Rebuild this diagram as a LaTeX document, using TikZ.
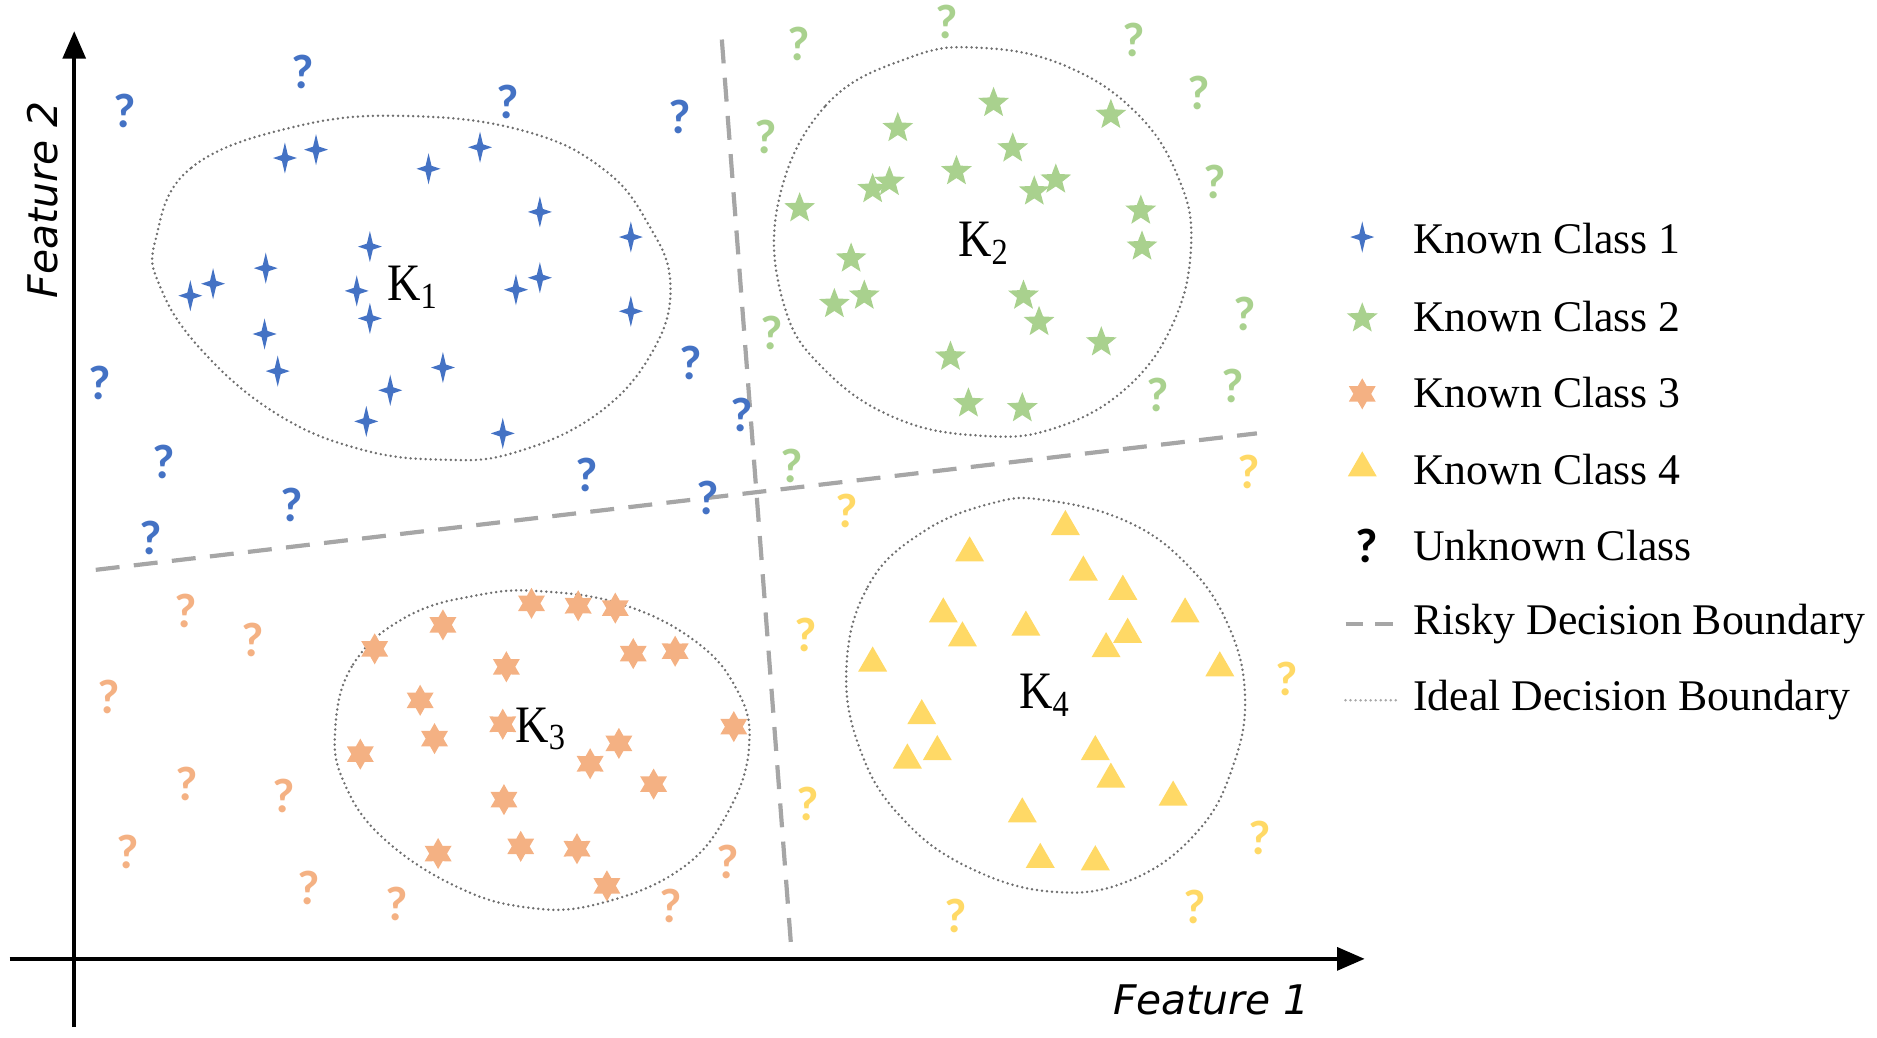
\documentclass[tikz,border=0pt]{standalone}
\usepackage{fontspec}
\setmainfont{Liberation Serif}
\newfontfamily\qfont{Carlito}[BoldFont=* Bold]
\newfontfamily\axfont{DejaVu Sans}
\usetikzlibrary{shapes.geometric,arrows.meta}
\definecolor{cblue}{HTML}{4472C4}
\definecolor{cgreen}{HTML}{A9D18E}
\definecolor{corange}{HTML}{F4B183}
\definecolor{cyellow}{HTML}{FFD966}
\definecolor{cdash}{HTML}{A6A6A6}
\definecolor{cdot}{HTML}{6E6E6E}
\tikzset{
  sparkle/.pic={\fill[cblue] (0,-13) -- (2.5,-2.5) -- (10,0) -- (2.5,2.5) -- (0,13) -- (-2.5,2.5) -- (-10,0) -- (-2.5,-2.5) -- cycle;},
  gstar/.style={star,star points=5,star point ratio=2.35,minimum size=2.7mm,inner sep=0pt,fill=cgreen,draw=none},
  ostar/.style={star,star points=6,star point ratio=1.75,minimum size=2.6mm,inner sep=0pt,fill=corange,draw=none},
  ytri/.style={regular polygon,regular polygon sides=3,minimum size=2.8mm,inner sep=0pt,fill=cyellow,draw=none},
  qm/.style={font=\qfont\bfseries\fontsize{11.5}{11.5}\selectfont,inner sep=0pt},
  risky/.style={cdash,line width=1pt,dash pattern=on 2mm off 1.2mm},
  ideal/.style={cdot,line width=0.65pt,line cap=round,dash pattern=on 0pt off 0.42mm},
  axis/.style={black,line width=0.9pt,-{Triangle[length=2.3mm,width=1.9mm]}},
  klab/.style={font=\fontsize{12.5}{12.5}\selectfont,inner sep=0pt,xscale=0.88},
  legtext/.style={anchor=west,font=\fontsize{10.4}{10.4}\selectfont,inner sep=0pt},
  axlab/.style={font=\axfont\itshape\fontsize{9.7}{9.7}\selectfont,inner sep=0pt}
}
\begin{document}
\begin{tikzpicture}[x=0.1mm,y=-0.1mm]
\useasboundingbox (0,0) rectangle (1568,867);
% axes
\coordinate (xs) at (8,801);
\coordinate (xe) at (1140,801);
\coordinate (ys) at (62,858);
\coordinate (ye) at (62,26);
\draw[axis] (xs) -- (xe);
\draw[axis] (ys) -- (ye);
\node[axlab] (f1) at (1012,835) {Feature 1};
\node[axlab,rotate=90] (f2) at (36,167) {Feature 2};
% risky boundaries
\coordinate (r1a) at (80,476);
\coordinate (r1b) at (1050,362);
\coordinate (r2a) at (603,33);
\coordinate (r2b) at (661,792);
\draw[risky] (r1a) -- (r1b);
\draw[risky] (r2a) -- (r2b);
% ideal boundaries
\draw[ideal] plot[smooth cycle,tension=0.7] coordinates {(130,200) (160,140) (250,105) (345,97) (440,110) (505,142) (542,188) (560,237) (546,292) (500,345) (430,378) (370,384) (300,375) (230,345) (168,292) (134,240)};
\draw[ideal] plot[smooth cycle,tension=0.7] coordinates {(650,170) (690,88) (760,48) (820,40) (890,55) (950,95) (985,150) (995,205) (980,270) (940,325) (880,358) (820,364) (750,350) (690,310) (655,255)};
\draw[ideal] plot[smooth cycle,tension=0.7] coordinates {(280,610) (295,555) (340,515) (400,497) (453,494) (520,505) (580,535) (615,575) (626,620) (610,675) (570,725) (500,755) (440,758) (380,740) (320,700) (288,655)};
\draw[ideal] plot[smooth cycle,tension=0.7] coordinates {(707,560) (725,490) (770,445) (830,420) (875,418) (940,435) (990,470) (1025,520) (1040,580) (1030,640) (1000,695) (945,735) (880,745) (810,725) (755,685) (720,630)};
% class 1
\foreach \px/\py in {238/132,264/125,358/141,401/123,451/177,527/198,309/206,222/224,178/237,159/247,298/243,309/266,431/242,451/232,527/260,221/279,232/310,370/307,326/326,306/352,420/362}
  \pic at (\px,\py) {sparkle};
\foreach \px/\py in {104/93,253/60,424/85,568/98,577/303,83/320,620/347,137/386,490/397,244/422,591/416,126/449}
  \node[qm,text=cblue] at (\px,\py) {?};
% class 2
\foreach \px/\py in {830/86,750/107,928/96,846/124,799/143,743/152,729/158,864/160,882/150,668/174,953/176,954/206,711/216,722/247,697/254,855/247,868/269,920/286,794/298,809/337,854/341}
  \node[gstar] at (\px,\py) {};
\foreach \px/\py in {791/18,667/37,947/33,1001/78,640/114,1015/152,645/278,1040/262,967/330,1030/322,661/389}
  \node[qm,text=cgreen] at (\px,\py) {?};
% class 3
\foreach \px/\py in {444/504,483/506,514/508,370/522,313/542,529/546,564/544,423/557,351/585,363/617,420/605,613/607,301/630,517/621,493/638,546/655,421/668,366/713,435/707,482/709,507/740}
  \node[ostar] at (\px,\py) {};
\foreach \px/\py in {155/510,211/535,91/582,156/655,237/665,107/712,258/742,331/755,608/720,560/757}
  \node[qm,text=corange] at (\px,\py) {?};
% class 4
\foreach \px/\py in {890/440,810/462,905/478,938/494,788/513,857/524,942/530,990/513,804/533,924/542,729/554,1019/558,770/598,915/628,758/635,783/628,928/651,980/666,854/680,869/718,915/720}
  \node[ytri] at (\px,\py) {};
\foreach \px/\py in {1043/394,707/427,673/530,1075/567,675/672,1052/700,798/765,998/758}
  \node[qm,text=cyellow] at (\px,\py) {?};
% cluster labels
\node[klab] (k1) at (345,240) {K\textsubscript{1}};
\node[klab] (k2) at (822,203) {K\textsubscript{2}};
\node[klab] (k3) at (452,609) {K\textsubscript{3}};
\node[klab] (k4) at (873,581) {K\textsubscript{4}};
% legend
\pic at (1138,198) {sparkle};
\node[gstar] (lg2) at (1138,266) {};
\node[ostar] (lg3) at (1138,329) {};
\node[ytri] (lg4) at (1138,391) {};
\node[qm,text=black] (lg5) at (1142,456) {?};
\coordinate (l6a) at (1124,521);
\coordinate (l6b) at (1166,521);
\draw[cdash,line width=1pt,dash pattern=on 1.5mm off 1mm] (l6a) -- (l6b);
\coordinate (l7a) at (1124,585);
\coordinate (l7b) at (1166,585);
\draw[ideal,cdash] (l7a) -- (l7b);
\node[legtext] (t1) at (1180,199) {Known Class 1};
\node[legtext] (t2) at (1180,264) {Known Class 2};
\node[legtext] (t3) at (1180,328) {Known Class 3};
\node[legtext] (t4) at (1180,392) {Known Class 4};
\node[legtext] (t5) at (1180,456) {Unknown Class};
\node[legtext] (t6) at (1180,521) {Risky Decision Boundary};
\node[legtext] (t7) at (1180,585) {Ideal Decision Boundary};
\end{tikzpicture}
\end{document}
